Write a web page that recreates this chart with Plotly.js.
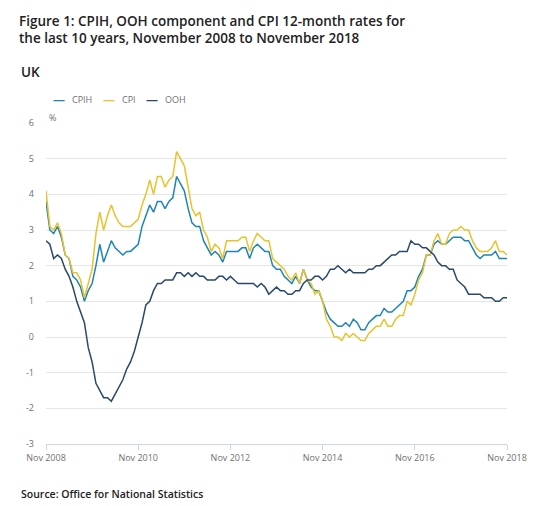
<!DOCTYPE html>
<html>
<head>
<meta charset="utf-8">
<script src="https://cdn.plot.ly/plotly-3.0.1.min.js"></script>
<style>
  html, body { margin: 0; padding: 0; background: #ffffff; }
  #chart { width: 540px; height: 506px; }
</style>
</head>
<body>
<div id="chart"></div>
<script>
// ---- Data (12-month rates, %), Nov 2008 .. Nov 2018 ----
const monthNames = ["Jan","Feb","Mar","Apr","May","Jun","Jul","Aug","Sep","Oct","Nov","Dec"];
const months = [];
for (let y = 2008, m = 10; y < 2018 || (y === 2018 && m <= 10); ) {
  months.push(monthNames[m] + " " + y);
  m++; if (m > 11) { m = 0; y++; }
}

const seriesNames = ["CPIH", "CPI", "OOH"];

const cpih = [
  3.8, 3.0,
  2.9, 3.1, 2.8, 2.3, 2.2, 1.7, 1.6, 1.4, 1.0, 1.3, 1.5, 2.0,
  2.6, 2.1, 2.4, 2.7, 2.5, 2.4, 2.3, 2.4, 2.4, 2.5, 2.6, 3.1,
  3.4, 3.7, 3.5, 3.8, 3.8, 3.6, 3.8, 3.9, 4.5, 4.3, 4.1, 3.6,
  3.2, 3.1, 3.1, 2.7, 2.5, 2.3, 2.4, 2.3, 2.1, 2.4, 2.4, 2.4,
  2.4, 2.5, 2.5, 2.2, 2.5, 2.6, 2.5, 2.4, 2.4, 2.0, 1.9, 1.9,
  1.7, 1.6, 1.5, 1.7, 1.5, 1.9, 1.6, 1.4, 1.3, 1.3, 1.0, 0.7,
  0.5, 0.4, 0.3, 0.3, 0.4, 0.3, 0.5, 0.4, 0.2, 0.2, 0.4, 0.5,
  0.6, 0.6, 0.8, 0.7, 0.7, 0.8, 0.9, 1.0, 1.3, 1.3, 1.4, 1.7,
  1.9, 2.3, 2.3, 2.6, 2.7, 2.6, 2.6, 2.7, 2.8, 2.8, 2.8, 2.7,
  2.7, 2.5, 2.3, 2.2, 2.3, 2.3, 2.3, 2.4, 2.2, 2.2, 2.2
];

const cpi = [
  4.1, 3.1,
  3.0, 3.2, 2.9, 2.3, 2.2, 1.8, 1.8, 1.6, 1.1, 1.5, 1.9, 2.9,
  3.5, 3.0, 3.4, 3.7, 3.4, 3.2, 3.1, 3.1, 3.1, 3.2, 3.3, 3.7,
  4.0, 4.4, 4.0, 4.5, 4.5, 4.2, 4.4, 4.5, 5.2, 5.0, 4.8, 4.2,
  3.6, 3.4, 3.5, 3.0, 2.8, 2.4, 2.6, 2.5, 2.2, 2.7, 2.7, 2.7,
  2.7, 2.8, 2.8, 2.4, 2.7, 2.9, 2.8, 2.7, 2.7, 2.2, 2.1, 2.0,
  1.9, 1.7, 1.6, 1.8, 1.5, 1.9, 1.6, 1.5, 1.2, 1.3, 1.0, 0.5,
  0.3, 0.0, 0.0, -0.1, 0.1, 0.0, 0.1, 0.0, -0.1, -0.1, 0.1, 0.2,
  0.3, 0.3, 0.5, 0.3, 0.3, 0.5, 0.6, 0.6, 1.0, 0.9, 1.2, 1.6,
  1.8, 2.3, 2.3, 2.7, 2.9, 2.6, 2.6, 2.9, 3.0, 3.0, 3.1, 3.0,
  3.0, 2.7, 2.5, 2.4, 2.4, 2.4, 2.5, 2.7, 2.4, 2.4, 2.3
];

const ooh = [
  2.7, 2.6,
  2.2, 2.3, 2.2, 1.9, 1.7, 1.4, 1.0, 0.7, 0.4, -0.3, -0.7, -1.3,
  -1.5, -1.7, -1.7, -1.8, -1.6, -1.4, -1.2, -0.9, -0.7, -0.4, 0.0, 0.4,
  0.9, 1.0, 1.3, 1.5, 1.5, 1.6, 1.6, 1.6, 1.8, 1.8, 1.7, 1.8,
  1.7, 1.8, 1.7, 1.7, 1.6, 1.6, 1.6, 1.7, 1.7, 1.6, 1.7, 1.6,
  1.5, 1.5, 1.5, 1.5, 1.5, 1.4, 1.5, 1.4, 1.2, 1.3, 1.4, 1.3,
  1.3, 1.2, 1.2, 1.3, 1.3, 1.5, 1.6, 1.6, 1.7, 1.7, 1.6, 1.7,
  1.9, 1.9, 2.0, 1.9, 1.8, 1.9, 1.8, 1.8, 1.8, 1.8, 1.9, 1.9,
  2.0, 2.0, 2.1, 2.2, 2.3, 2.3, 2.4, 2.4, 2.4, 2.7, 2.6, 2.6,
  2.5, 2.5, 2.4, 2.3, 2.1, 2.0, 2.0, 1.9, 1.9, 1.6, 1.5, 1.4,
  1.2, 1.2, 1.2, 1.2, 1.1, 1.1, 1.1, 1.0, 1.0, 1.1, 1.1
];

const xTickLabels = ["Nov 2008", "Nov 2010", "Nov 2012", "Nov 2014", "Nov 2016", "Nov 2018"];
const yTicks = [-3, -2, -1, 0, 1, 2, 3, 4, 5, 6];

// ---- Styles ----
const FONT = "'Open Sans', 'Noto Sans', sans-serif";
const seriesColors = ["#1e84b8", "#e9c22c", "#28496d"];
const seriesValues = [cpih, cpi, ooh];

const traces = seriesNames.map((name, i) => ({
  name: name, x: months, y: seriesValues[i], type: "scatter", mode: "lines",
  line: { color: seriesColors[i], width: 1.5 }, showlegend: false
}));

const plotL = 46, plotR = 507, plotT = 123, plotB = 444;
const pw = plotR - plotL, ph = plotB - plotT;
const px = (x) => (x - plotL) / pw;
const py = (y) => (plotB - y) / ph;

// legend (compact key like the original: short dash + label)
const legendTextX = [70, 120, 163];
const legendAnn = [];
seriesNames.forEach((name, i) => {
  legendAnn.push({
    text: "—", xref: "paper", yref: "paper",
    x: px(legendTextX[i] - 3), y: py(99), xanchor: "right", yanchor: "middle",
    showarrow: false,
    font: { family: FONT, size: 12, weight: 700, color: seriesColors[i] }
  });
  legendAnn.push({
    text: name, xref: "paper", yref: "paper",
    x: px(legendTextX[i]), y: py(99), xanchor: "left", yanchor: "middle",
    showarrow: false,
    font: { family: FONT, size: 9, color: "#707070" }
  });
});

const layout = {
  width: 540, height: 506,
  margin: { l: plotL, r: 540 - plotR, t: plotT, b: 506 - plotB, pad: 0 },
  paper_bgcolor: "#ffffff", plot_bgcolor: "#ffffff",
  font: { family: FONT, color: "#707070", size: 9 },
  title: {
    text: "Figure 1: CPIH, OOH component and CPI 12-month rates for<br>the last 10 years, November 2008 to November 2018",
    font: { family: FONT, size: 13.5, weight: 600, color: "#222222" },
    xref: "container", yref: "container",
    x: 19 / 540, xanchor: "left",
    y: 1 - 25.5 / 506, yanchor: "middle"
  },
  showlegend: false,
  xaxis: {
    type: "category",
    range: [0, months.length - 1],
    tickmode: "array",
    tickvals: xTickLabels,
    ticktext: xTickLabels,
    ticks: "outside", ticklen: 5, tickcolor: "#ccd6eb", tickwidth: 1,
    showline: true, linecolor: "#ccd6eb", linewidth: 1,
    showgrid: false, zeroline: false,
    tickfont: { family: FONT, size: 9, color: "#707070" },
    fixedrange: true
  },
  yaxis: {
    range: [-3, 6],
    tickmode: "array", tickvals: yTicks, ticktext: yTicks.map(String),
    showgrid: true, gridcolor: "#e6e6e6", gridwidth: 1,
    zeroline: false, showline: false,
    ticks: "", ticklabelstandoff: 11,
    tickfont: { family: FONT, size: 9, color: "#707070" },
    fixedrange: true
  },
  annotations: legendAnn.concat([
    { text: "UK", xref: "paper", yref: "paper",
      x: px(19), y: py(72), xanchor: "left", yanchor: "middle", showarrow: false,
      font: { family: FONT, size: 13.5, weight: 600, color: "#222222" } },
    { text: "%", xref: "paper", yref: "paper",
      x: px(47), y: py(117), xanchor: "left", yanchor: "middle", showarrow: false,
      font: { family: FONT, size: 9, color: "#707070" } },
    { text: "Source: Office for National Statistics", xref: "paper", yref: "paper",
      x: px(19), y: py(494), xanchor: "left", yanchor: "middle", showarrow: false,
      font: { family: FONT, size: 10.5, weight: 600, color: "#222222" } }
  ])
};

Plotly.newPlot("chart", traces, layout, { displayModeBar: false, staticPlot: true });
</script>
</body>
</html>
